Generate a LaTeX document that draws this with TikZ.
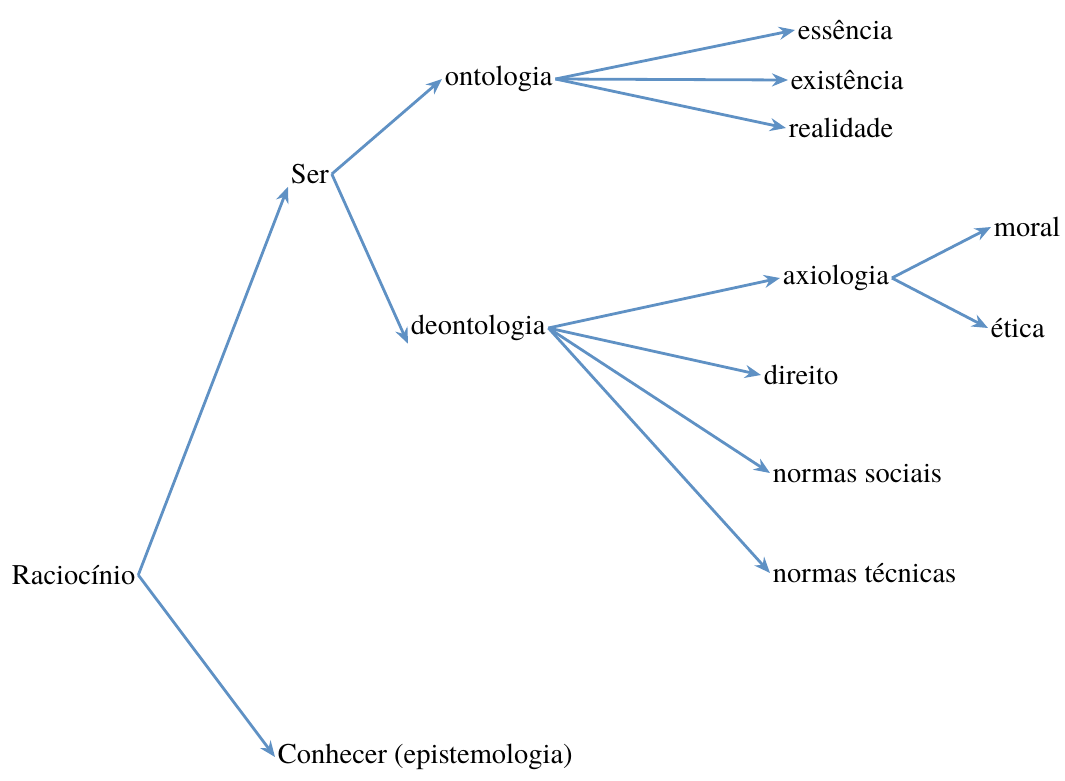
\documentclass[tikz,border=0pt]{standalone}
\usepackage{fontspec}
\setmainfont{TeX Gyre Termes}
\usetikzlibrary{arrows.meta}
\definecolor{linkblue}{RGB}{95,145,196}

\begin{document}
\begin{tikzpicture}[x=1pt, y=-1pt, ->, >={Stealth[length=16pt,width=13pt]}, line width=2.8pt, color=linkblue]
		\tikzstyle{every node}=[anchor=west,inner sep=1.5pt,text=black,font=\fontsize{28.5}{34}\selectfont]
		\useasboundingbox (0,0) rectangle (1065,780);
		\node (rac) at (9,575) {Racioc\'{\i}nio};
		\node (ser) at (288,174) {Ser};
		\node (con) at (275,757) {Conhecer (epistemologia)};
		\node (ont) at (442,79) {ontologia};
		\node (deo) at (408,328) {deontologia};
		\node (ess) at (795,30) {essência};
		\node (exi) at (788,80) {existência};
		\node (rea) at (786,128) {realidade};
		\node (axi) at (780,278) {axiologia};
		\node (dir) at (761,375) {direito};
		\node (nso) at (770,473) {normas sociais};
		\node (nte) at (770,573) {normas técnicas};
		\node (mor) at (991,227) {moral};
		\node (eti) at (988,328) {ética};
	
		\draw (rac.east) -> (ser.south west);
		\draw (rac.east) -> (con.west);
		\draw (ser.east) -> (ont.west);
		\draw (ser.east) -> (deo.south west);
		\draw (ont.east) -> (ess.west);
		\draw (ont.east) -> (exi.west);
		\draw (ont.east) -> (rea.west);
		\draw (deo.east) -> (axi.west);
		\draw (deo.east) -> (dir.west);
		\draw (deo.east) -> (nso.west);
		\draw (deo.east) -> (nte.west);
		\draw (axi.east) -> (mor.west);
		\draw (axi.east) -> (eti.west);
	\end{tikzpicture}
\end{document}
